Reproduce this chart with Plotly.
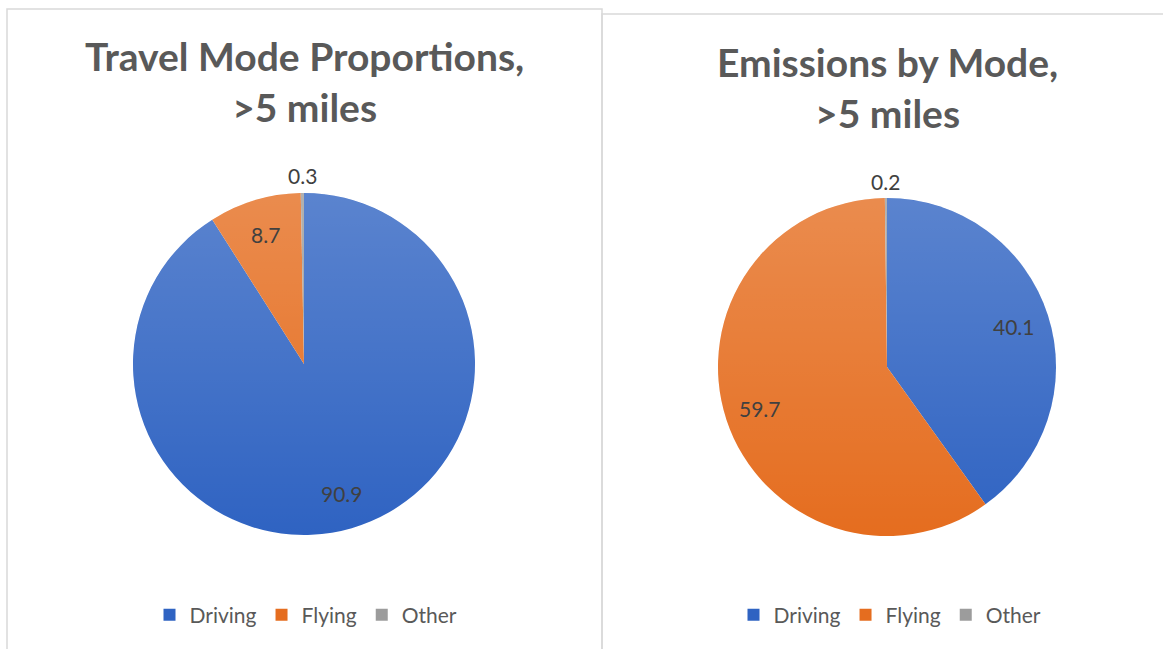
import base64
import math
import plotly.graph_objects as go

modes = ["Driving", "Flying", "Other"]
travel_share = [90.9, 8.7, 0.3]
emission_share = [40.1, 59.7, 0.2]

titles = ["Travel Mode Proportions,<br>>5 miles", "Emissions by Mode,<br>>5 miles"]
colors = ["#2F63C2", "#E56D1F", "#9C9C9C"]

W, H = 1163, 649
FONT = "Lato, 'Open Sans', sans-serif"
LABEL_COLOR = "#404040"
TEXT_COLOR = "#595959"

# pie geometry in pixels: centre x, centre y, radius
PIES = [(304, 364, 171), (887, 367, 169)]


def px_x(v):
    return v / W


def px_y(v):
    return 1 - v / H


def slice_labels(values, cx, cy, r):
    """Value labels placed along each slice's bisector (clockwise from 12 o'clock)."""
    total = sum(values)
    out = []
    cum = 0.0
    for v in values:
        mid = (cum + v / 2) / total * 2 * math.pi
        cum += v
        frac = 0.79 if v / total > 0.02 else 1.1
        x = cx + frac * r * math.sin(mid)
        y = cy - frac * r * math.cos(mid)
        out.append(dict(text=f"{v:.1f}", x=px_x(x), y=px_y(y), xref="paper", yref="paper",
                        showarrow=False, xanchor="center", yanchor="middle",
                        font=dict(family=FONT, size=21, color=LABEL_COLOR)))
    return out


# soft top-to-bottom sheen laid over each pie
sheen_svg = (
    "<svg xmlns='http://www.w3.org/2000/svg' width='200' height='200'>"
    "<defs><linearGradient id='g' x1='0' y1='0' x2='0' y2='1'>"
    "<stop offset='0' stop-color='#ffffff' stop-opacity='0.21'/>"
    "<stop offset='1' stop-color='#ffffff' stop-opacity='0'/>"
    "</linearGradient></defs>"
    "<circle cx='100' cy='100' r='100' fill='url(#g)'/></svg>"
)
sheen_src = "data:image/svg+xml;base64," + base64.b64encode(sheen_svg.encode()).decode()

fig = go.Figure()

series = [travel_share, emission_share]
for i, vals in enumerate(series):
    cx, cy, r = PIES[i]
    # a zero-width space keeps the second chart's legend entries separate
    labels = [m + "\u200b" * i for m in modes]
    fig.add_trace(go.Pie(
        labels=labels, values=vals, sort=False, direction="clockwise", rotation=0,
        marker=dict(colors=colors, line=dict(width=0)),
        textinfo="none",
        domain=dict(x=[px_x(cx - r), px_x(cx + r)], y=[px_y(cy + r), px_y(cy - r)]),
        legend="legend" if i == 0 else "legend2",
        hovertemplate="%{label}: %{value}<extra></extra>",
        showlegend=True,
    ))

legend_common = dict(
    orientation="h", xanchor="center", yanchor="middle",
    font=dict(family=FONT, size=21, color=TEXT_COLOR),
    bgcolor="rgba(0,0,0,0)", itemwidth=30, tracegroupgap=0,
)

annotations = []
for i, vals in enumerate(series):
    annotations += slice_labels(vals, *PIES[i])

title_y = [82, 87]
for i, t in enumerate(titles):
    annotations.append(dict(text=t, x=px_x(PIES[i][0]), y=px_y(title_y[i]), xref="paper", yref="paper",
                            showarrow=False, xanchor="center", yanchor="middle",
                            font=dict(family=FONT, size=39, color=TEXT_COLOR, weight="bold")))

images = []
for cx, cy, r in PIES:
    images.append(dict(source=sheen_src, xref="paper", yref="paper",
                       x=px_x(cx - r), y=px_y(cy - r), sizex=2 * r / W, sizey=2 * r / H,
                       xanchor="left", yanchor="top", sizing="stretch", layer="above"))

fig.update_layout(
    width=W, height=H, margin=dict(l=0, r=0, t=0, b=0),
    paper_bgcolor="white", plot_bgcolor="white",
    legend=dict(x=px_x(306), y=px_y(615), **legend_common),
    legend2=dict(x=px_x(890), y=px_y(615), **legend_common),
    shapes=[
        dict(type="rect", xref="paper", yref="paper",
             x0=px_x(7), x1=px_x(602), y0=px_y(660), y1=px_y(9),
             line=dict(color="#D9D9D9", width=1.5), fillcolor="rgba(0,0,0,0)", layer="below"),
        dict(type="rect", xref="paper", yref="paper",
             x0=px_x(602), x1=px_x(1175), y0=px_y(660), y1=px_y(14),
             line=dict(color="#D9D9D9", width=1.5), fillcolor="rgba(0,0,0,0)", layer="below"),
    ],
    annotations=annotations,
    images=images,
)

fig.write_html("out.html")
